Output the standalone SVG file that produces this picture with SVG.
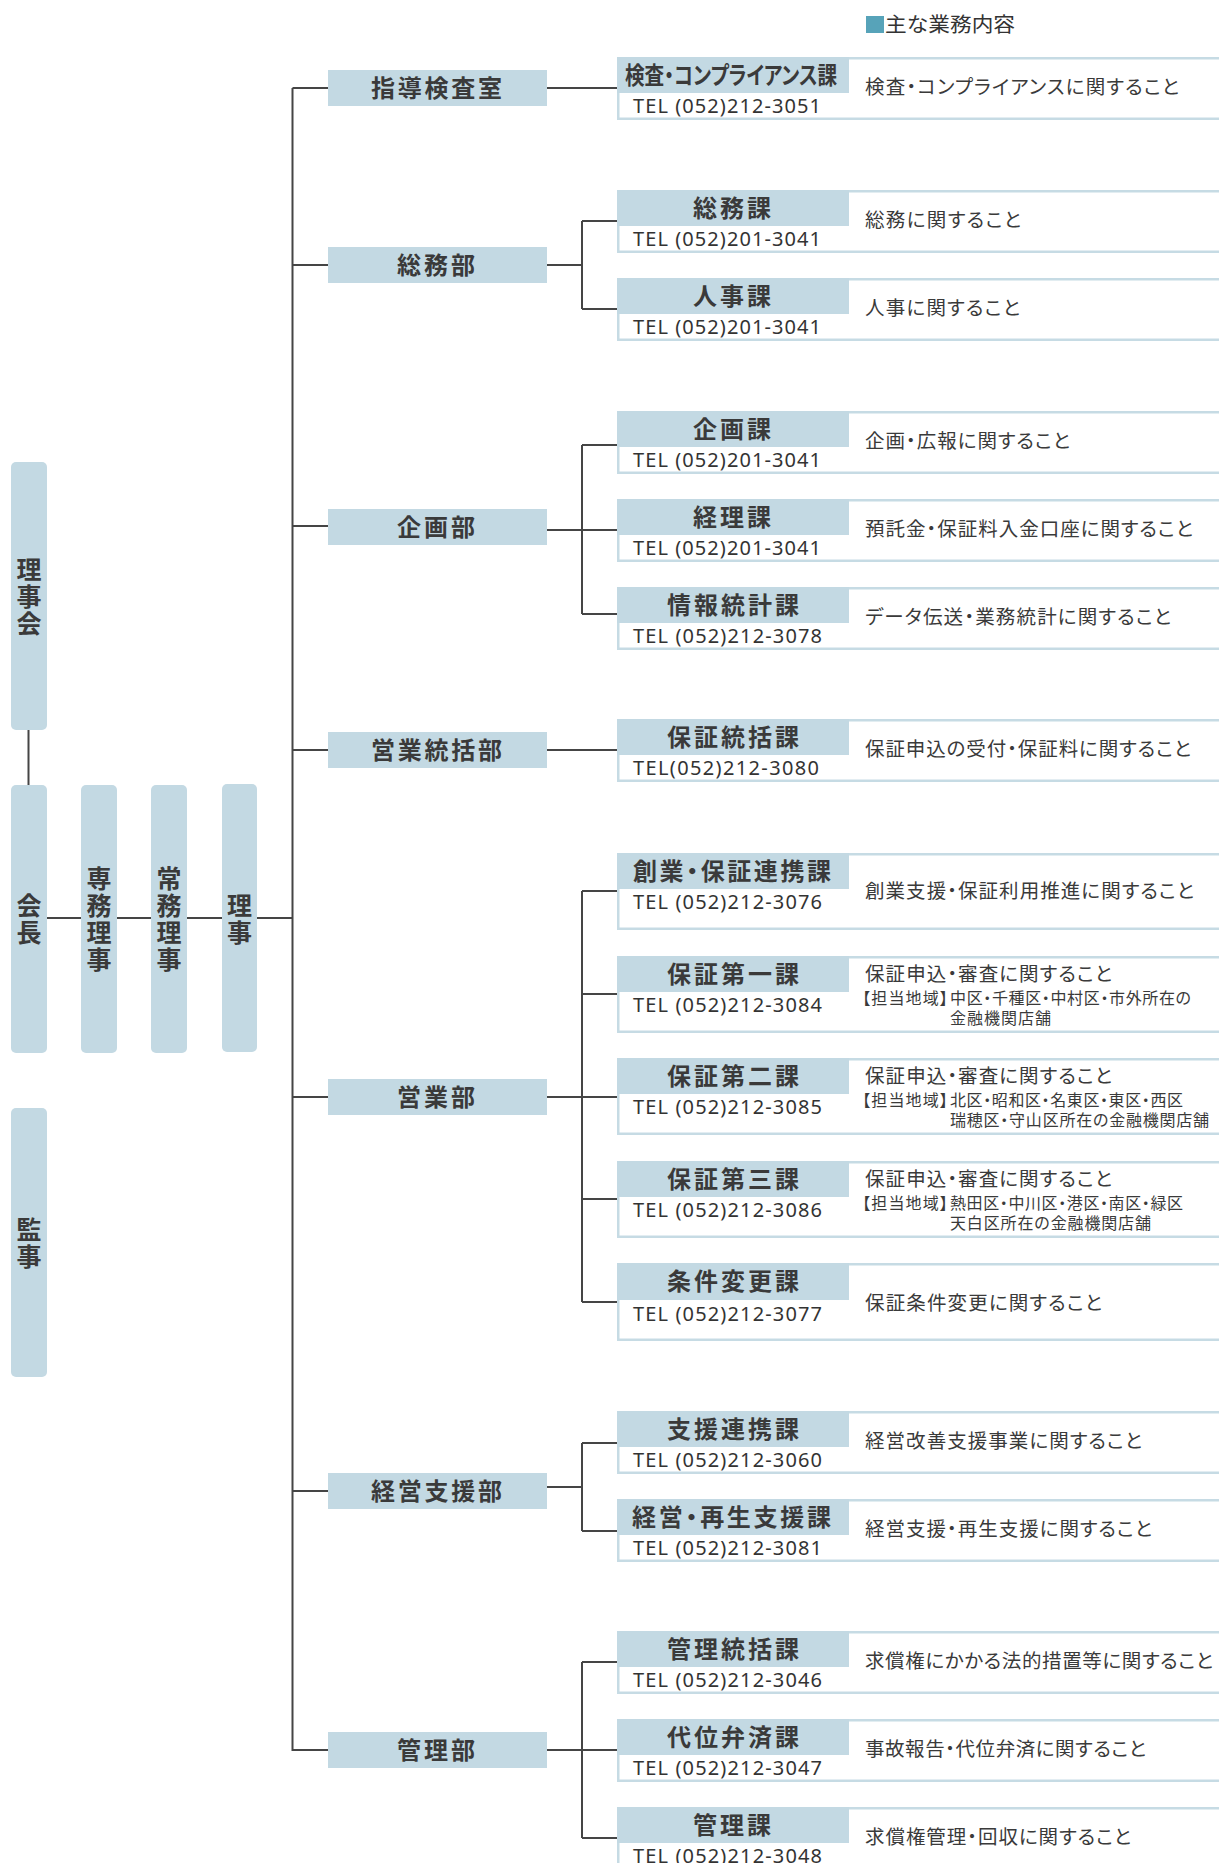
<svg xmlns="http://www.w3.org/2000/svg" width="1219" height="1863" viewBox="0 0 1219 1863">
  <style>
    .box { fill: #c3d9e3; }
    .frame { fill: #ffffff; stroke: #c6dbe4; stroke-width: 2.5; }
    .ln { fill: none; stroke: #454545; stroke-width: 2; }
    text { font-family: "Noto Sans CJK JP", "Noto Sans", sans-serif; fill: #3a3a3a; }
    .b { font-weight: 700; font-size: 24px; font-feature-settings: "palt"; }
    .v { font-weight: 700; font-size: 25px; text-anchor: middle; writing-mode: vertical-rl; letter-spacing: 2px; }
    .tel { font-family: "Noto Sans", "Noto Sans CJK JP", sans-serif; font-size: 20px; fill: #333333; }
    .ds { font-size: 19.5px; font-feature-settings: "palt"; }
    .sm { font-size: 16px; font-feature-settings: "palt"; }
    .lg { font-size: 20px; fill: #333333; }
  </style>

  <!-- legend -->
  <g id="legend">
    <rect x="866" y="16" width="18" height="17" fill="#57a3b9"/>
    <text class="lg" x="885" y="32" textLength="130" lengthAdjust="spacingAndGlyphs">主な業務内容</text>
  </g>

  <!-- connectors -->
  <g id="connectors" class="ln">
    <path d="M28.5 730 V785"/>
    <path d="M47 918 H292.5"/>
    <path d="M292.5 88 V1751"/>
    <path d="M292.5 88 H328 M292.5 265 H328 M292.5 526 H328 M292.5 750 H328 M292.5 1097 H328 M292.5 1491 H328 M292.5 1750 H328"/>
    <path d="M547 88 H617"/>
    <path d="M547 265 H582 M582 221 V309 M582 221 H617 M582 309 H617"/>
    <path d="M547 530 H582 M582 445 V614 M582 445 H617 M582 530 H617 M582 614 H617"/>
    <path d="M547 750 H617"/>
    <path d="M547 1097 H582 M582 891 V1302 M582 891 H617 M582 994 H617 M582 1097 H617 M582 1199 H617 M582 1302 H617"/>
    <path d="M547 1487 H582 M582 1443 V1531 M582 1443 H617 M582 1531 H617"/>
    <path d="M547 1750 H582 M582 1662 V1838 M582 1662 H617 M582 1750 H617 M582 1838 H617"/>
  </g>

  <!-- board and executives (vertical labels) -->
  <g id="rijikai">
    <rect class="box" x="11" y="462" width="36" height="268" rx="5"/>
    <text class="v" x="29" y="597">理事会</text>
  </g>
  <g id="kaicho">
    <rect class="box" x="11" y="785" width="36" height="268" rx="5"/>
    <text class="v" x="29" y="920">会長</text>
  </g>
  <g id="senmu-riji">
    <rect class="box" x="81" y="785" width="36" height="268" rx="5"/>
    <text class="v" x="99" y="920">専務理事</text>
  </g>
  <g id="jomu-riji">
    <rect class="box" x="151" y="785" width="36" height="268" rx="5"/>
    <text class="v" x="169" y="920">常務理事</text>
  </g>
  <g id="riji">
    <rect class="box" x="222" y="784" width="35" height="268" rx="5"/>
    <text class="v" x="239.5" y="920">理事</text>
  </g>
  <g id="kanji">
    <rect class="box" x="11" y="1108" width="36" height="269" rx="5"/>
    <text class="v" x="29" y="1244">監事</text>
  </g>

  <!-- departments -->
  <g id="dept-shido">
    <rect class="box" x="328" y="70" width="219" height="36"/>
    <text class="b" x="371" y="97" textLength="131">指導検査室</text>
  </g>
  <g id="dept-somu">
    <rect class="box" x="328" y="247" width="219" height="36"/>
    <text class="b" x="397" y="274" textLength="78">総務部</text>
  </g>
  <g id="dept-kikaku">
    <rect class="box" x="328" y="509" width="219" height="36"/>
    <text class="b" x="397" y="536" textLength="78">企画部</text>
  </g>
  <g id="dept-eigyo-tokatsu">
    <rect class="box" x="328" y="732" width="219" height="36"/>
    <text class="b" x="371" y="759" textLength="131">営業統括部</text>
  </g>
  <g id="dept-eigyo">
    <rect class="box" x="328" y="1079" width="219" height="36"/>
    <text class="b" x="397" y="1106" textLength="78">営業部</text>
  </g>
  <g id="dept-keiei-shien">
    <rect class="box" x="328" y="1473" width="219" height="36"/>
    <text class="b" x="371" y="1500" textLength="131">経営支援部</text>
  </g>
  <g id="dept-kanri">
    <rect class="box" x="328" y="1732" width="219" height="36"/>
    <text class="b" x="397" y="1759" textLength="78">管理部</text>
  </g>

  <!-- sections: each group is placed at the top edge of its frame -->
  <g id="sec-kensa" transform="translate(0,57)">
    <rect class="frame" x="618.25" y="1.25" width="620" height="60.5"/>
    <rect class="box" x="617" y="0" width="232" height="36"/>
    <text class="b" x="625" y="27" textLength="212" lengthAdjust="spacingAndGlyphs">検査・コンプライアンス課</text>
    <text class="tel" x="633" y="56" textLength="188">TEL (052)212-3051</text>
    <text class="ds" x="865" y="37" textLength="314">検査・コンプライアンスに関すること</text>
  </g>
  <g id="sec-somu" transform="translate(0,190)">
    <rect class="frame" x="618.25" y="1.25" width="620" height="60.5"/>
    <rect class="box" x="617" y="0" width="232" height="36"/>
    <text class="b" x="693" y="27" textLength="78">総務課</text>
    <text class="tel" x="633" y="56" textLength="188">TEL (052)201-3041</text>
    <text class="ds" x="865" y="37" textLength="156">総務に関すること</text>
  </g>
  <g id="sec-jinji" transform="translate(0,278)">
    <rect class="frame" x="618.25" y="1.25" width="620" height="60.5"/>
    <rect class="box" x="617" y="0" width="232" height="36"/>
    <text class="b" x="693" y="27" textLength="78">人事課</text>
    <text class="tel" x="633" y="56" textLength="188">TEL (052)201-3041</text>
    <text class="ds" x="865" y="37" textLength="155">人事に関すること</text>
  </g>
  <g id="sec-kikaku" transform="translate(0,411)">
    <rect class="frame" x="618.25" y="1.25" width="620" height="60.5"/>
    <rect class="box" x="617" y="0" width="232" height="36"/>
    <text class="b" x="693" y="27" textLength="78">企画課</text>
    <text class="tel" x="633" y="56" textLength="188">TEL (052)201-3041</text>
    <text class="ds" x="865" y="37" textLength="205">企画・広報に関すること</text>
  </g>
  <g id="sec-keiri" transform="translate(0,499)">
    <rect class="frame" x="618.25" y="1.25" width="620" height="60.5"/>
    <rect class="box" x="617" y="0" width="232" height="36"/>
    <text class="b" x="693" y="27" textLength="78">経理課</text>
    <text class="tel" x="633" y="56" textLength="188">TEL (052)201-3041</text>
    <text class="ds" x="865" y="37" textLength="328">預託金・保証料入金口座に関すること</text>
  </g>
  <g id="sec-joho-tokei" transform="translate(0,587)">
    <rect class="frame" x="618.25" y="1.25" width="620" height="60.5"/>
    <rect class="box" x="617" y="0" width="232" height="36"/>
    <text class="b" x="667" y="27" textLength="132">情報統計課</text>
    <text class="tel" x="633" y="56" textLength="189">TEL (052)212-3078</text>
    <text class="ds" x="865" y="37" textLength="306">データ伝送・業務統計に関すること</text>
  </g>
  <g id="sec-hosho-tokatsu" transform="translate(0,719)">
    <rect class="frame" x="618.25" y="1.25" width="620" height="60.5"/>
    <rect class="box" x="617" y="0" width="232" height="36"/>
    <text class="b" x="667" y="27" textLength="132">保証統括課</text>
    <text class="tel" x="633" y="56" textLength="186">TEL(052)212-3080</text>
    <text class="ds" x="865" y="37" textLength="326">保証申込の受付・保証料に関すること</text>
  </g>
  <g id="sec-sogyo" transform="translate(0,853)">
    <rect class="frame" x="618.25" y="1.25" width="620" height="74.5"/>
    <rect class="box" x="617" y="0" width="232" height="36"/>
    <text class="b" x="633" y="27" textLength="198">創業・保証連携課</text>
    <text class="tel" x="633" y="56" textLength="189">TEL (052)212-3076</text>
    <text class="ds" x="865" y="45" textLength="329">創業支援・保証利用推進に関すること</text>
  </g>
  <g id="sec-hosho-1" transform="translate(0,956)">
    <rect class="frame" x="618.25" y="1.25" width="620" height="74.5"/>
    <rect class="box" x="617" y="0" width="232" height="36"/>
    <text class="b" x="667" y="27" textLength="132">保証第一課</text>
    <text class="tel" x="633" y="56" textLength="189">TEL (052)212-3084</text>
    <text class="ds" x="865" y="25" textLength="247">保証申込・審査に関すること</text>
    <text class="sm" x="862" y="48" textLength="86">【担当地域】</text>
    <text class="sm" x="950" y="48" textLength="241">中区・千種区・中村区・市外所在の</text>
    <text class="sm" x="950" y="68" textLength="101">金融機関店舗</text>
  </g>
  <g id="sec-hosho-2" transform="translate(0,1058)">
    <rect class="frame" x="618.25" y="1.25" width="620" height="74.5"/>
    <rect class="box" x="617" y="0" width="232" height="36"/>
    <text class="b" x="667" y="27" textLength="132">保証第二課</text>
    <text class="tel" x="633" y="56" textLength="189">TEL (052)212-3085</text>
    <text class="ds" x="865" y="25" textLength="247">保証申込・審査に関すること</text>
    <text class="sm" x="862" y="48" textLength="86">【担当地域】</text>
    <text class="sm" x="950" y="48" textLength="233">北区・昭和区・名東区・東区・西区</text>
    <text class="sm" x="950" y="68" textLength="259">瑞穂区・守山区所在の金融機関店舗</text>
  </g>
  <g id="sec-hosho-3" transform="translate(0,1161)">
    <rect class="frame" x="618.25" y="1.25" width="620" height="74.5"/>
    <rect class="box" x="617" y="0" width="232" height="36"/>
    <text class="b" x="667" y="27" textLength="132">保証第三課</text>
    <text class="tel" x="633" y="56" textLength="189">TEL (052)212-3086</text>
    <text class="ds" x="865" y="25" textLength="247">保証申込・審査に関すること</text>
    <text class="sm" x="862" y="48" textLength="86">【担当地域】</text>
    <text class="sm" x="950" y="48" textLength="233">熱田区・中川区・港区・南区・緑区</text>
    <text class="sm" x="950" y="68" textLength="201">天白区所在の金融機関店舗</text>
  </g>
  <g id="sec-joken-henko" transform="translate(0,1263)">
    <rect class="frame" x="618.25" y="1.25" width="620" height="75.5"/>
    <rect class="box" x="617" y="0" width="232" height="37"/>
    <text class="b" x="667" y="27" textLength="132">条件変更課</text>
    <text class="tel" x="633" y="58" textLength="189">TEL (052)212-3077</text>
    <text class="ds" x="865" y="47" textLength="237">保証条件変更に関すること</text>
  </g>
  <g id="sec-shien-renkei" transform="translate(0,1411)">
    <rect class="frame" x="618.25" y="1.25" width="620" height="60.5"/>
    <rect class="box" x="617" y="0" width="232" height="36"/>
    <text class="b" x="667" y="27" textLength="132">支援連携課</text>
    <text class="tel" x="633" y="56" textLength="189">TEL (052)212-3060</text>
    <text class="ds" x="865" y="37" textLength="277">経営改善支援事業に関すること</text>
  </g>
  <g id="sec-keiei-saisei" transform="translate(0,1499)">
    <rect class="frame" x="618.25" y="1.25" width="620" height="60.5"/>
    <rect class="box" x="617" y="0" width="232" height="36"/>
    <text class="b" x="632" y="27" textLength="199">経営・再生支援課</text>
    <text class="tel" x="633" y="56" textLength="189">TEL (052)212-3081</text>
    <text class="ds" x="865" y="37" textLength="287">経営支援・再生支援に関すること</text>
  </g>
  <g id="sec-kanri-tokatsu" transform="translate(0,1631)">
    <rect class="frame" x="618.25" y="1.25" width="620" height="60.5"/>
    <rect class="box" x="617" y="0" width="232" height="36"/>
    <text class="b" x="667" y="27" textLength="132">管理統括課</text>
    <text class="tel" x="633" y="56" textLength="189">TEL (052)212-3046</text>
    <text class="ds" x="865" y="37" textLength="348">求償権にかかる法的措置等に関すること</text>
  </g>
  <g id="sec-daii-bensai" transform="translate(0,1719)">
    <rect class="frame" x="618.25" y="1.25" width="620" height="60.5"/>
    <rect class="box" x="617" y="0" width="232" height="36"/>
    <text class="b" x="667" y="27" textLength="132">代位弁済課</text>
    <text class="tel" x="633" y="56" textLength="189">TEL (052)212-3047</text>
    <text class="ds" x="865" y="37" textLength="281">事故報告・代位弁済に関すること</text>
  </g>
  <g id="sec-kanri" transform="translate(0,1807)">
    <rect class="frame" x="618.25" y="1.25" width="620" height="60.5"/>
    <rect class="box" x="617" y="0" width="232" height="36"/>
    <text class="b" x="693" y="27" textLength="78">管理課</text>
    <text class="tel" x="633" y="56" textLength="189">TEL (052)212-3048</text>
    <text class="ds" x="865" y="37" textLength="266">求償権管理・回収に関すること</text>
  </g>
</svg>
